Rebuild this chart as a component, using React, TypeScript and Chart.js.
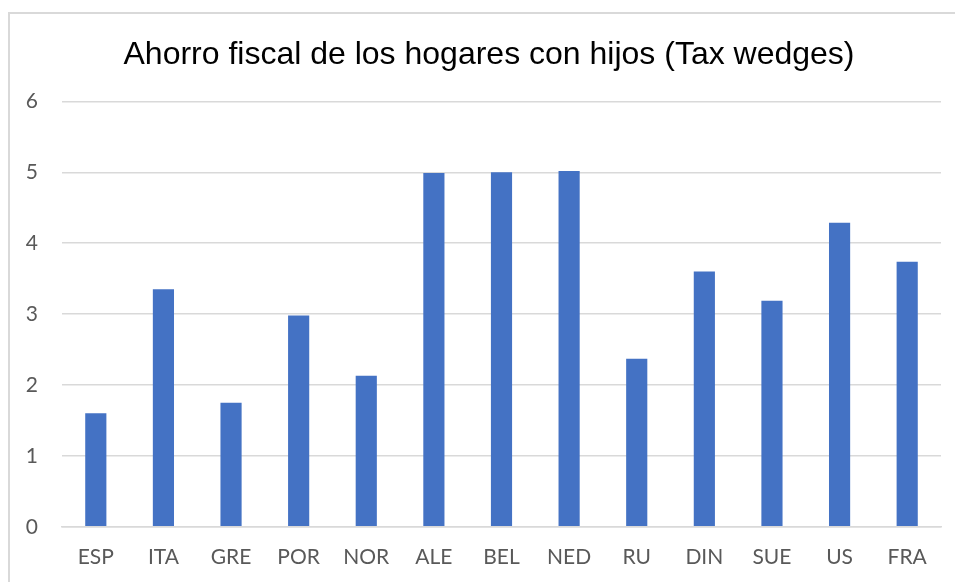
import React, { useEffect, useRef } from "react";
import { Chart, registerables } from "chart.js";

Chart.register(...registerables);

const categories = ["ESP", "ITA", "GRE", "POR", "NOR", "ALE", "BEL", "NED", "RU", "DIN", "SUE", "US", "FRA"];
const values = [1.6, 3.35, 1.75, 2.98, 2.13, 4.99, 5.0, 5.02, 2.37, 3.6, 3.19, 4.29, 3.74];
const titleText = "Ahorro fiscal de los hogares con hijos (Tax wedges)";
const yMin = 0;
const yMax = 6;

const widenYLabelArea = {
  id: "widenYLabelArea",
  afterLayout(chart: any) {
    const y = chart.scales.y;
    if (y) y.left = 0;
  },
};

export default function App() {
  const ref = useRef<HTMLCanvasElement | null>(null);
  useEffect(() => {
    if (!ref.current) return;
    const chart = new Chart(ref.current, {
      type: "bar",
      data: {
        labels: categories,
        datasets: [
          {
            data: values,
            backgroundColor: "#4472c4",
            borderWidth: 0,
            categoryPercentage: 1,
            barPercentage: 0.313,
          },
        ],
      },
      plugins: [widenYLabelArea],
      options: {
        animation: false,
        responsive: true,
        maintainAspectRatio: false,
        layout: { padding: { left: 27, right: 37, top: 12, bottom: 16 } },
        plugins: {
          legend: { display: false },
          tooltip: { enabled: false },
          title: {
            display: true,
            text: titleText,
            color: "#000000",
            font: { family: "'Liberation Sans', Arial, sans-serif", size: 32, weight: "normal" },
            padding: { top: 10, bottom: 27 },
          },
        },
        scales: {
          x: {
            grid: { display: false, drawTicks: false },
            border: { color: "#d9d9d9", width: 1.5 },
            ticks: {
              color: "#595959",
              font: { family: "Lato, 'Open Sans', sans-serif", size: 21 },
              padding: 18,
              maxRotation: 0,
            },
          },
          y: {
            min: yMin,
            max: yMax,
            grid: { color: "#d9d9d9", lineWidth: 1.5, drawTicks: false },
            border: { display: false },
            afterFit: (scale: any) => {
              scale.width = 25;
            },
            ticks: {
              stepSize: 1,
              color: "#595959",
              font: { family: "Lato, 'Open Sans', sans-serif", size: 21 },
              padding: 24,
            },
          },
        },
      },
    });
    return () => chart.destroy();
  }, []);

  return (
    <div style={{ position: "fixed", left: 0, top: 0, width: 955, height: 582, overflow: "hidden", background: "#fff" }}>
      <div
        style={{
          position: "absolute",
          left: 8,
          top: 12,
          width: 968,
          height: 590,
          borderLeft: "2px solid #d9d9d9",
          borderTop: "2px solid #d9d9d9",
        }}
      >
        <canvas ref={ref} />
      </div>
    </div>
  );
}
